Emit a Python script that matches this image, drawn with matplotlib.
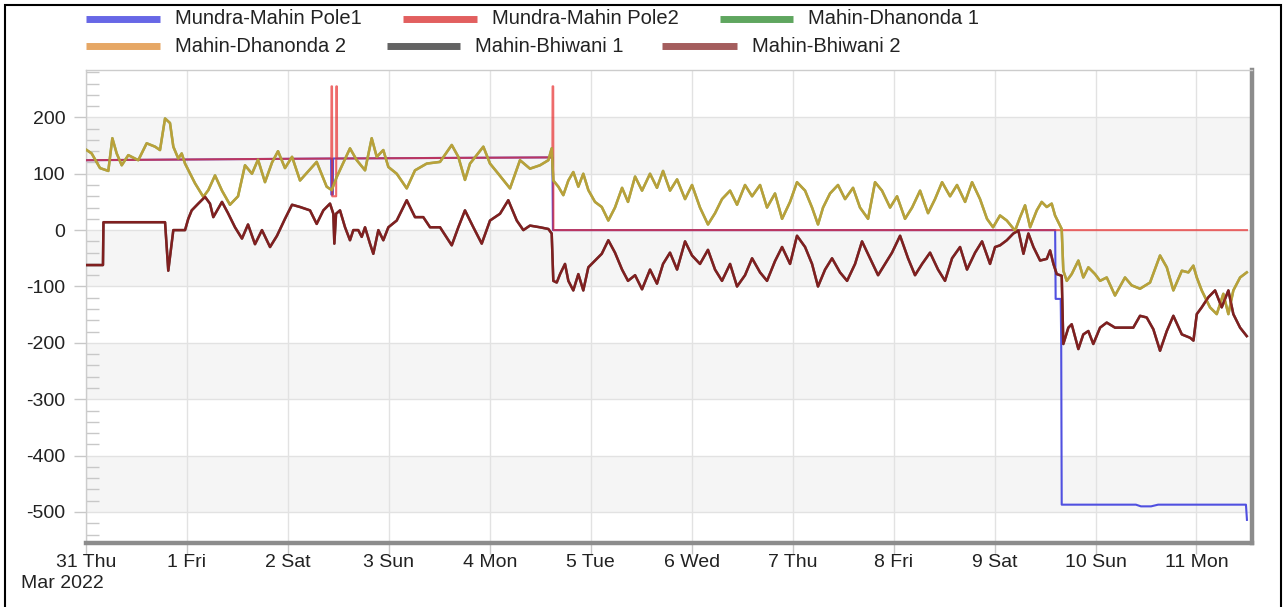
import matplotlib
matplotlib.use('Agg')
import matplotlib.pyplot as plt
import matplotlib.dates as mdates
from matplotlib.lines import Line2D
from matplotlib.ticker import MultipleLocator, FuncFormatter
import pandas as pd

plt.rcParams['font.family'] = ['Liberation Sans', 'DejaVu Sans']
plt.rcParams['axes.unicode_minus'] = False

START = pd.Timestamp('2022-03-31')

# --- Data (time in days after 31 Mar 00:00, values in MW) ---

pole1_t = [0.0, 2.428, 2.430, 2.445, 2.447, 4.620, 4.625, 9.600, 9.605, 9.655, 9.660, 9.665,
           10.40, 10.45, 10.55, 10.62, 10.70, 11.49, 11.50]
pole1_v = [124, 127, 63, 63, 127, 129, 0, 0, -122, -122, -197, -487,
           -487, -490, -490, -487, -487, -487, -514]

pole2_t = [0.0, 2.430, 2.432, 2.437, 2.439, 2.478, 2.480, 2.485, 2.487, 4.620, 4.622, 4.628,
           4.630, 11.50]
pole2_v = [124, 127, 255, 255, 60, 60, 255, 255, 127, 129, 255, 255,
           0, 0]

dhan_t = [0.007, 0.056, 0.139, 0.221, 0.261, 0.304, 0.354, 0.419, 0.518, 0.601, 0.684, 0.733,
          0.783, 0.832, 0.865, 0.914, 0.948, 0.981, 1.080, 1.162, 1.212, 1.278, 1.347, 1.426,
          1.506, 1.575, 1.644, 1.704, 1.773, 1.843, 1.902, 1.971, 2.041, 2.120, 2.285, 2.384,
          2.434, 2.483, 2.615, 2.682, 2.764, 2.830, 2.880, 2.945, 2.995, 3.078, 3.177, 3.259,
          3.375, 3.507, 3.623, 3.688, 3.754, 3.804, 3.936, 4.002, 4.084, 4.200, 4.299, 4.398,
          4.497, 4.580, 4.613, 4.629, 4.679, 4.728, 4.778, 4.827, 4.877, 4.926, 4.976, 5.042,
          5.109, 5.174, 5.240, 5.310, 5.369, 5.439, 5.508, 5.587, 5.656, 5.716, 5.785, 5.855,
          5.934, 6.003, 6.082, 6.161, 6.231, 6.300, 6.380, 6.449, 6.528, 6.598, 6.677, 6.746,
          6.825, 6.895, 6.974, 7.043, 7.123, 7.192, 7.251, 7.301, 7.370, 7.449, 7.519, 7.598,
          7.667, 7.747, 7.816, 7.885, 7.965, 8.034, 8.113, 8.183, 8.262, 8.341, 8.410, 8.480,
          8.559, 8.628, 8.708, 8.777, 8.856, 8.925, 8.985, 9.054, 9.121, 9.203, 9.253, 9.302,
          9.352, 9.418, 9.467, 9.517, 9.566, 9.599, 9.632, 9.665, 9.681, 9.715, 9.764, 9.830,
          9.879, 9.929, 9.995, 10.045, 10.111, 10.193, 10.292, 10.358, 10.441, 10.540, 10.639,
          10.706, 10.771, 10.855, 10.920, 10.969, 11.003, 11.052, 11.134, 11.201, 11.266,
          11.316, 11.365, 11.432, 11.498]
dhan_v = [142, 136, 110, 105, 163, 136, 115, 133, 124, 154, 148, 142,
          198, 190, 148, 127, 136, 118, 83, 59, 71, 97, 70, 45,
          60, 115, 100, 125, 85, 120, 140, 110, 130, 88, 121, 77,
          71, 94, 145, 124, 106, 163, 130, 142, 112, 100, 74, 106,
          118, 121, 151, 130, 89, 118, 148, 118, 100, 74, 124, 109,
          115, 124, 145, 88, 77, 62, 88, 103, 77, 100, 71, 50,
          41, 17, 40, 75, 50, 95, 70, 100, 75, 105, 70, 90,
          55, 80, 40, 10, 30, 55, 70, 45, 80, 60, 80, 40,
          65, 20, 50, 85, 70, 40, 10, 40, 65, 80, 55, 75,
          40, 20, 85, 70, 40, 60, 20, 40, 70, 30, 55, 85,
          60, 80, 50, 85, 55, 20, 5, 26, 17, -1, 23, 44,
          5, 35, 50, 41, 47, 26, 14, 2, -72, -90, -78, -54,
          -84, -66, -78, -90, -84, -116, -84, -98, -104, -93, -45,
          -66, -107, -72, -75, -63, -84, -107, -137, -149, -113,
          -149, -107, -84, -75]

bhiw_t = [0.0, 0.168, 0.173, 0.783, 0.815, 0.837, 0.865, 0.981, 1.013, 1.047, 1.112, 1.179,
          1.228, 1.261, 1.347, 1.407, 1.476, 1.545, 1.605, 1.674, 1.743, 1.823, 1.892, 1.971,
          2.041, 2.120, 2.219, 2.285, 2.351, 2.417, 2.450, 2.460, 2.477, 2.516, 2.566, 2.615,
          2.648, 2.697, 2.731, 2.764, 2.813, 2.846, 2.896, 2.945, 2.995, 3.078, 3.177, 3.259,
          3.341, 3.408, 3.507, 3.623, 3.688, 3.754, 3.837, 3.920, 4.002, 4.101, 4.183, 4.267,
          4.332, 4.398, 4.497, 4.580, 4.613, 4.629, 4.663, 4.696, 4.745, 4.778, 4.827, 4.877,
          4.926, 4.976, 5.042, 5.109, 5.174, 5.240, 5.310, 5.369, 5.439, 5.508, 5.587, 5.656,
          5.716, 5.785, 5.855, 5.934, 6.003, 6.082, 6.161, 6.231, 6.300, 6.380, 6.449, 6.528,
          6.598, 6.677, 6.746, 6.825, 6.895, 6.974, 7.043, 7.123, 7.192, 7.251, 7.321, 7.390,
          7.469, 7.539, 7.618, 7.687, 7.766, 7.846, 7.915, 7.984, 8.064, 8.143, 8.212, 8.282,
          8.361, 8.440, 8.509, 8.579, 8.658, 8.727, 8.807, 8.876, 8.955, 9.005, 9.054, 9.121,
          9.186, 9.236, 9.286, 9.335, 9.385, 9.451, 9.517, 9.550, 9.583, 9.616, 9.665, 9.681,
          9.731, 9.764, 9.830, 9.879, 9.929, 9.978, 10.045, 10.111, 10.193, 10.374, 10.441,
          10.507, 10.573, 10.639, 10.706, 10.771, 10.855, 10.937, 10.970, 11.003, 11.052,
          11.118, 11.184, 11.250, 11.316, 11.365, 11.432, 11.498]
bhiw_v = [-62, -62, 14, 14, -72, -40, 0, 0, 20, 35, 47, 59,
          47, 23, 50, 30, 5, -15, 10, -25, 0, -30, -10, 20,
          45, 41, 35, 11, 35, 47, 29, -24, 29, 35, 5, -18,
          0, 0, -12, 5, -24, -42, 0, -18, 5, 17, 53, 23,
          23, 5, 5, -27, 5, 35, 5, -24, 17, 29, 53, 17,
          0, 8, 5, 2, -6, -90, -93, -78, -60, -90, -107, -78,
          -107, -66, -54, -42, -18, -40, -70, -90, -80, -105, -70, -95,
          -60, -40, -70, -20, -45, -60, -35, -70, -90, -60, -100, -80,
          -50, -75, -90, -55, -30, -60, -10, -30, -60, -100, -70, -50,
          -75, -90, -60, -20, -50, -80, -60, -40, -10, -50, -80, -60,
          -40, -70, -90, -50, -30, -70, -40, -20, -60, -30, -27, -18,
          -6, -1, -42, -6, -30, -54, -51, -36, -60, -78, -81, -202,
          -173, -167, -211, -185, -179, -202, -173, -164, -173, -173, -152,
          -155, -176, -214, -179, -152, -185, -191, -196, -149, -137,
          -119, -107, -137, -107, -149, -173, -188]

names = ['Mundra-Mahin Pole1', 'Mundra-Mahin Pole2', 'Mahin-Dhanonda 1',
         'Mahin-Dhanonda 2', 'Mahin-Bhiwani 1', 'Mahin-Bhiwani 2']
legend_colors = ['#6767e6', '#e25f5f', '#5fa65f', '#e6a765', '#636363', '#a45d5d']


def to_dates(days):
    return START + pd.to_timedelta(days, unit='D')


fig = plt.figure(figsize=(12.87, 6.07), dpi=100, facecolor='white')
ax = fig.add_axes([86 / 1287, 1 - 543 / 607, 1166 / 1287, 473 / 607])
ax.set_facecolor('white')

# alternating bands
for lo in range(-500, 200, 200):
    ax.axhspan(lo, lo + 100, color='#f5f5f5', zorder=0, lw=0)

# lines (pairs overlap, so the visible colour is a blend)
ax.plot(to_dates(pole1_t), pole1_v, color='#5050e0', lw=1.5, zorder=3)
ax.plot(to_dates(pole2_t), pole2_v, color='#e82c2c', lw=1.5, alpha=0.7, zorder=4)
ax.plot(to_dates(dhan_t), dhan_v, color='#5a9e4a', lw=1.8, zorder=5)
ax.plot(to_dates(dhan_t), dhan_v, color='#dba234', lw=1.8, alpha=0.75, zorder=6)
ax.plot(to_dates(bhiw_t), bhiw_v, color='#4a4a4a', lw=1.8, zorder=5)
ax.plot(to_dates(bhiw_t), bhiw_v, color='#8e1515', lw=1.8, alpha=0.8, zorder=6)

ax.set_ylim(-555, 284)
ax.set_xlim(START, START + pd.Timedelta(days=11.55))

ax.yaxis.set_major_locator(MultipleLocator(100))
ax.yaxis.set_minor_locator(MultipleLocator(20))
ax.tick_params(axis='y', which='major', direction='out', length=9, width=1,
               color='#c8c8c8', labelsize=14, labelcolor='#222222', pad=6)
ax.tick_params(axis='y', which='minor', direction='in', length=9, width=1, color='#c8c8c8')

ax.xaxis.set_major_locator(mdates.DayLocator())
ax.xaxis.set_major_formatter(FuncFormatter(
    lambda x, pos: f'{mdates.num2date(x).day} {mdates.num2date(x).strftime("%a")}'))
ax.tick_params(axis='x', which='major', direction='out', length=8, width=1,
               color='#c8c8c8', labelsize=14, labelcolor='#222222', pad=0)

ax.grid(True, axis='both', color='#e2e2e2', lw=1, zorder=1)
ax.set_axisbelow(True)

for side in ['left', 'top']:
    ax.spines[side].set_color('#cccccc')
    ax.spines[side].set_linewidth(1)
for side in ['right', 'bottom']:
    ax.spines[side].set_color('#8c8c8c')
    ax.spines[side].set_linewidth(3.2)

fig.text(21 / 1287, 1 - 583 / 607, 'Mar 2022', fontsize=14, color='#222222',
         ha='left', va='center')

# legend (flow layout, two rows)
leg_items = [(86, 160, 175, 19), (403, 477, 492, 19), (720, 793, 808, 19),
             (86, 160, 175, 46), (387, 460, 475, 46), (662, 737, 752, 46)]
for (x0, x1, xt, y), name, c in zip(leg_items, names, legend_colors):
    fig.add_artist(Line2D([x0 / 1287, x1 / 1287], [1 - y / 607, 1 - y / 607],
                          color=c, lw=5, solid_capstyle='butt'))
    fig.text(xt / 1287, 1 - y / 607, name, fontsize=14.5, color='#222222',
             ha='left', va='center')

# outer frame
fig.add_artist(plt.Rectangle((5 / 1287, -0.01), 1276 / 1287, 1 - 5 / 607 + 0.01,
                             fill=False, ec='black', lw=1.5))

fig.savefig('out.png', dpi=100, facecolor='white')
